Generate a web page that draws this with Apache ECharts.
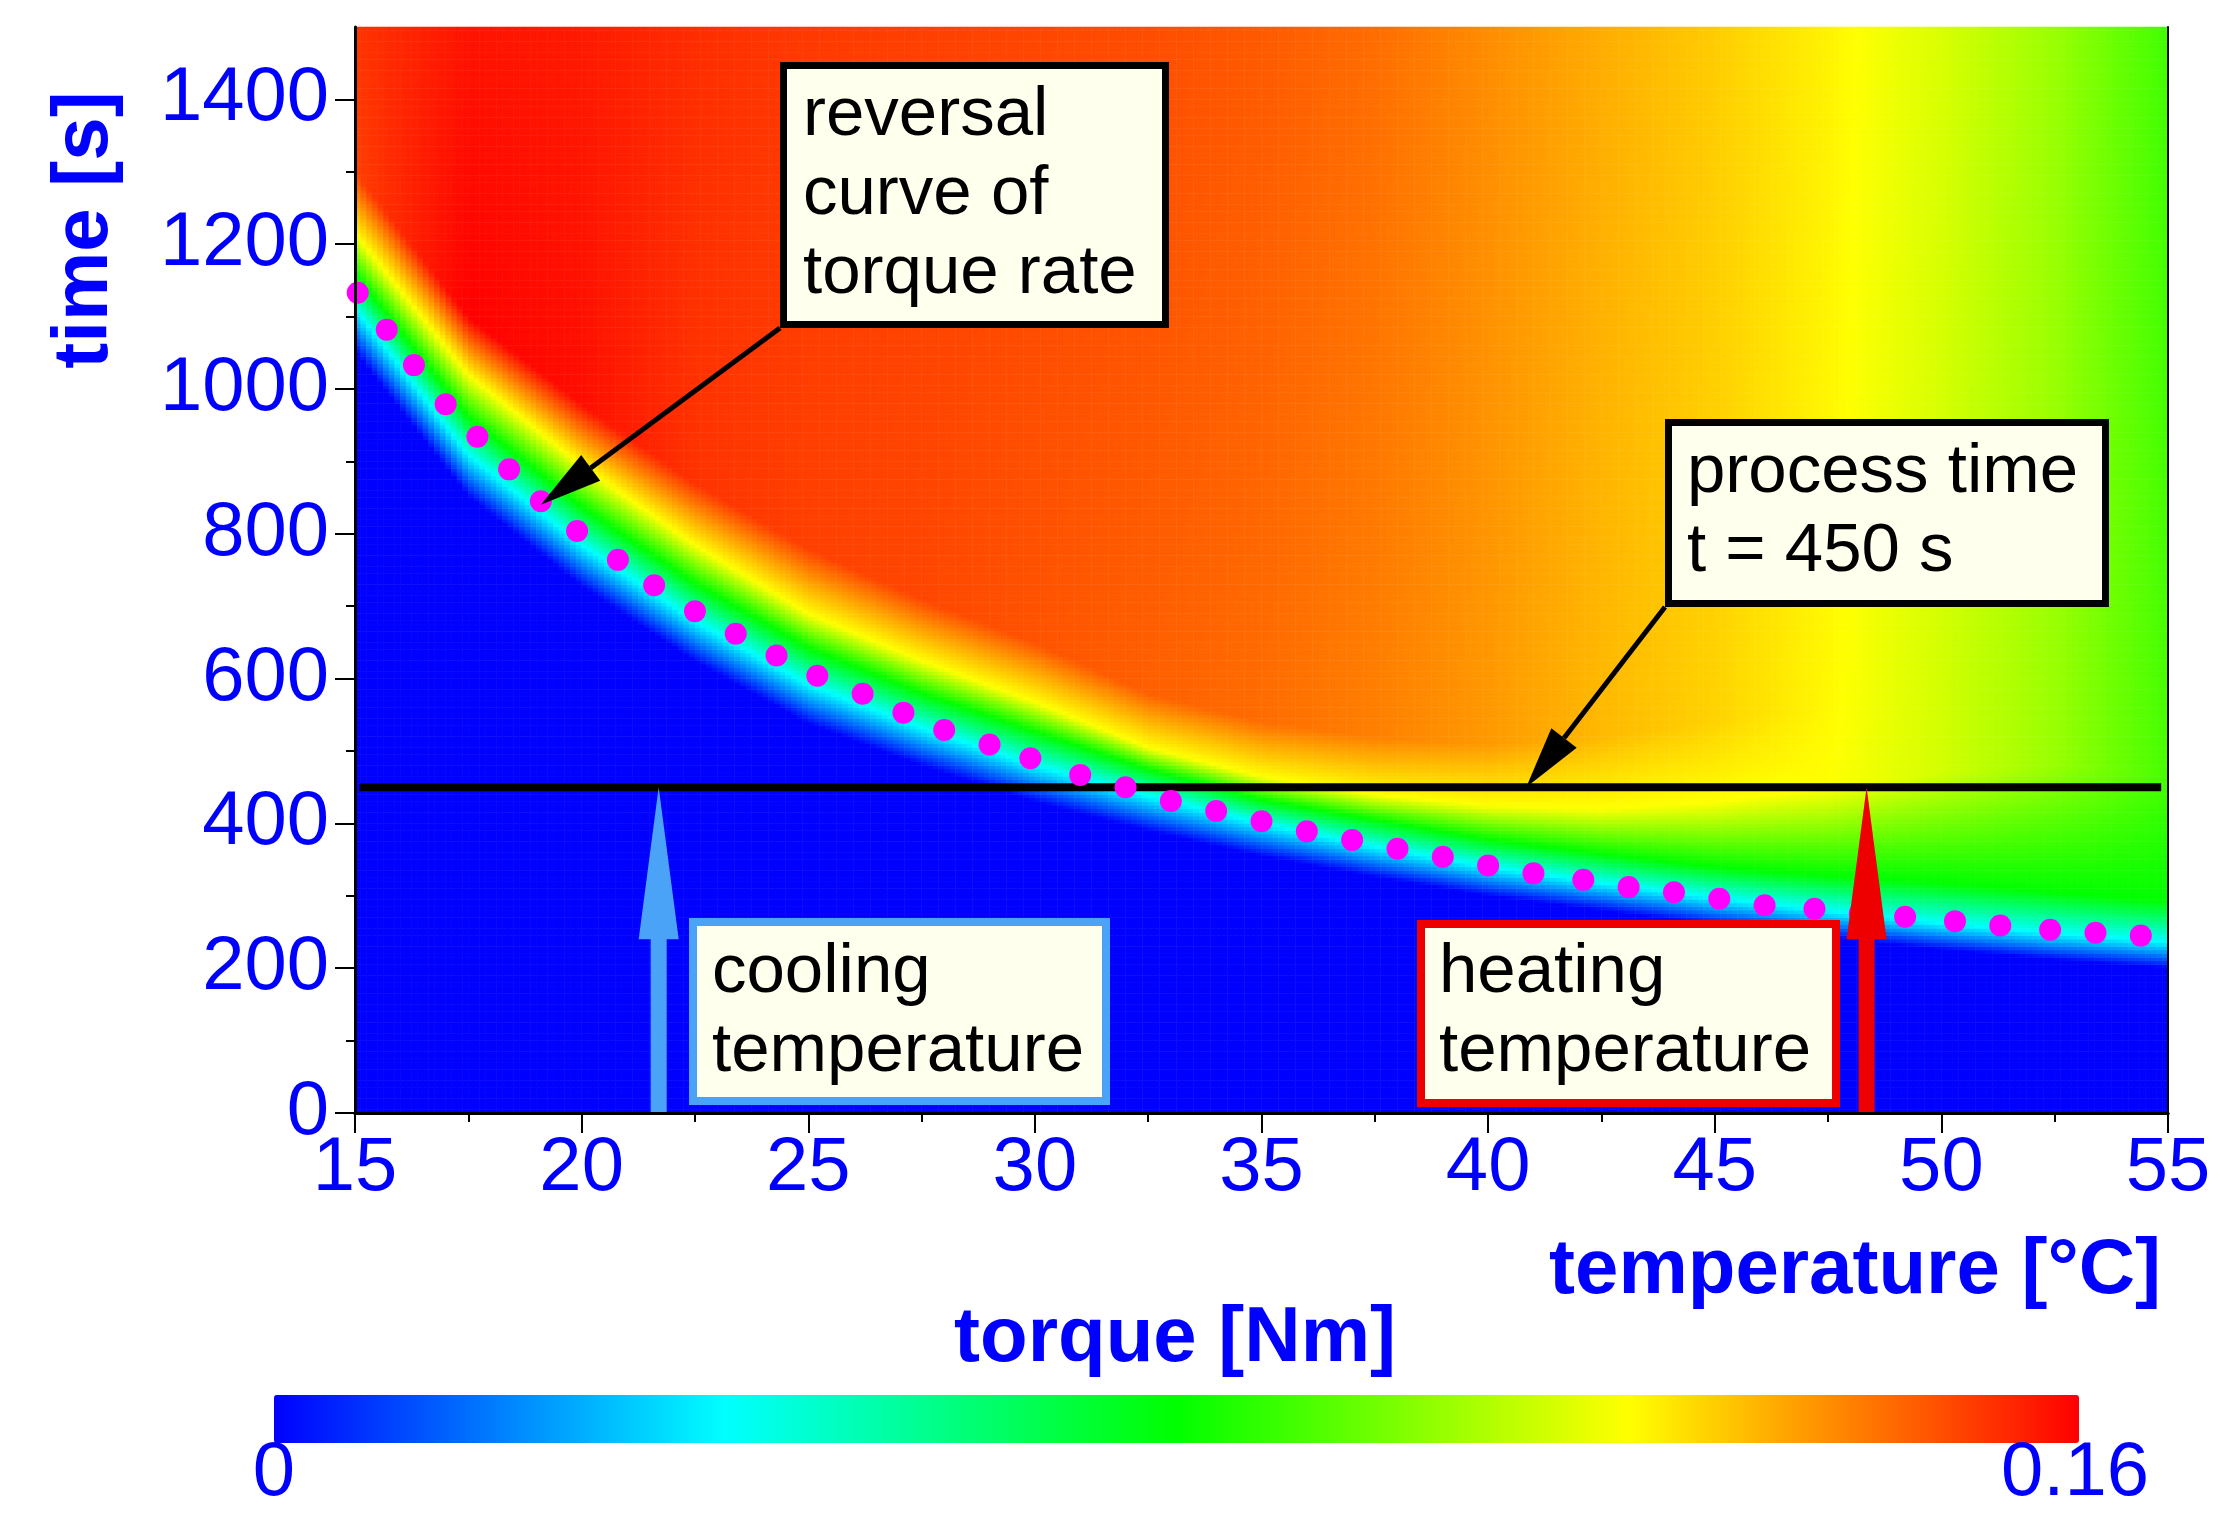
<!DOCTYPE html>
<html>
<head>
<meta charset="utf-8">
<title>reversal curve of torque rate</title>
<script src="https://cdn.jsdelivr.net/npm/echarts@6/dist/echarts.min.js"></script>
<style>
html, body { margin: 0; padding: 0; background: #fff; }
#chart { width: 2234px; height: 1533px; }
</style>
</head>
<body>
<div id="chart"></div>
<script>
var FONT = '"Liberation Sans", Arial, sans-serif';
var BLUE = '#0000ff';

// axis ticks
var xTicks = [15, 20, 25, 30, 35, 40, 45, 50, 55];
var yTicks = [0, 200, 400, 600, 800, 1000, 1200, 1400];
var yMinorTicks = [100, 300, 500, 700, 900, 1100, 1300];

// reversal curve of torque rate (magenta dots)
var dotTemp = [15.06, 15.7, 16.3, 17.0, 17.7, 18.4, 19.1, 19.9, 20.8, 21.6, 22.5, 23.4, 24.3, 25.2,
  26.2, 27.1, 28.0, 29.0, 29.9, 31.0, 32.0, 33.0, 34.0, 35.0, 36.0, 37.0, 38.0, 39.0, 40.0, 41.0,
  42.1, 43.1, 44.1, 45.1, 46.1, 47.2, 48.2, 49.2, 50.3, 51.3, 52.4, 53.4, 54.4];
var dotTime = [1133, 1082, 1033, 979, 934, 889, 845, 804, 764, 729, 693, 662, 632, 604,
  579, 553, 529, 509, 490, 467, 450, 431, 417, 403, 389, 377, 365, 354, 342, 331,
  322, 312, 305, 296, 287, 282, 276, 271, 265, 259, 253, 249, 245];

// torque rate field, read per temperature column:
// time where blue ends, cyan / green / yellow levels, start of plateau, plateau and top values
var colTemp      = [15, 17.5, 20, 22.5, 25, 27.5, 30, 32.5, 35, 37.5, 40, 42.5, 45, 47.5, 50, 52.5, 55];
var blueEdge     = [1052, 852, 728, 624, 538, 480, 430, 390, 355, 326, 300, 280, 259, 242, 226, 212, 200];
var cyanLine     = [1112, 910, 785, 680, 592, 532, 480, 438, 400, 368, 340, 318, 297, 279, 262, 248, 236];
var greenLine    = [1160, 962, 838, 732, 643, 580, 527, 475, 433, 405, 378, 358, 340, 328, 318, 305, 292];
var yellowLine   = [1215, 1020, 895, 785, 690, 625, 568, 505, 465, 440, 425, 420, 430, 450, 470, 480, 470];
var plateauStart = [1300, 1100, 980, 870, 780, 710, 650, 580, 540, 520, 510, 520, 540, 560, 600, 620, 600];
var plateauValue = [0.150, 0.160, 0.158, 0.152, 0.150, 0.149, 0.147, 0.145, 0.143, 0.140, 0.136, 0.131, 0.127, 0.121, 0.113, 0.104, 0.091];
var topValue     = [0.152, 0.157, 0.156, 0.153, 0.151, 0.150, 0.149, 0.148, 0.146, 0.143, 0.138, 0.133, 0.128, 0.122, 0.114, 0.104, 0.090];
var levelValues  = [0, 0.04, 0.08, 0.12];

var processTime = 450;
var coolingTemp = 21.7;
var heatingTemp = 48.35;

// grid of cells for the heatmap
var NX = 320, NY = 300, DX = 0.125, DT = 5;
var xCats = [], yCats = [], cells = [];
for (var j = 0; j < NY; j++) yCats.push(String((j + 0.5) * DT));

function lerp(arr, k, f) { return arr[k] + (arr[k + 1] - arr[k]) * f; }

var k = 0;
for (var i = 0; i < NX; i++) {
  var x = 15 + (i + 0.5) * DX;
  xCats.push(x.toFixed(4));
  while (k < colTemp.length - 2 && x > colTemp[k + 1]) k++;
  var f = (x - colTemp[k]) / (colTemp[k + 1] - colTemp[k]);
  var pv = lerp(plateauValue, k, f);
  var yv = Math.min(levelValues[3], plateauValue[k]) +
    (Math.min(levelValues[3], plateauValue[k + 1]) - Math.min(levelValues[3], plateauValue[k])) * f;
  var kt = [lerp(blueEdge, k, f), lerp(cyanLine, k, f), lerp(greenLine, k, f),
    lerp(yellowLine, k, f), lerp(plateauStart, k, f), 1500];
  var kv = [levelValues[0], levelValues[1], levelValues[2], yv, pv, lerp(topValue, k, f)];
  for (var jj = 0; jj < NY; jj++) {
    var t = (jj + 0.5) * DT;
    var v = 0;
    if (t > kt[0]) {
      var m = 0;
      while (m < kt.length - 2 && t > kt[m + 1]) m++;
      var g = Math.max(0, Math.min(1, (t - kt[m]) / (kt[m + 1] - kt[m])));
      v = kv[m] + (kv[m + 1] - kv[m]) * g;
    }
    cells.push([i, jj, +v.toFixed(4)]);
  }
}

var dots = dotTemp.map(function (d, n) { return [d, dotTime[n]]; });

var chart = echarts.init(document.getElementById('chart'));

var tickLabel = { color: BLUE, fontFamily: FONT, fontSize: 76, formatter: function (v) { return String(v); } };

var option = {
  animation: false,
  backgroundColor: '#ffffff',
  grid: [
    { left: 355, right: 66, top: 27, bottom: 420 },
    { left: 355, right: 66, top: 27, bottom: 420 }
  ],
  xAxis: [
    {
      type: 'value', gridIndex: 0, min: 15, max: 55, interval: 5, z: 10,
      axisLine: { lineStyle: { color: '#000', width: 3 } },
      axisTick: { length: 20, lineStyle: { color: '#000', width: 2 } },
      minorTick: { show: true, splitNumber: 2, length: 9, lineStyle: { color: '#000', width: 2 } },
      axisLabel: Object.assign({ margin: 18 }, tickLabel),
      splitLine: { show: false }
    },
    {
      type: 'value', gridIndex: 0, position: 'top', min: 15, max: 55, z: 10,
      axisLine: { lineStyle: { color: '#000', width: 3 } },
      axisTick: { show: false }, axisLabel: { show: false }, splitLine: { show: false }
    },
    { type: 'category', gridIndex: 1, data: xCats, show: false }
  ],
  yAxis: [
    {
      type: 'value', gridIndex: 0, min: 0, max: 1500, interval: 200, z: 10,
      axisLine: { lineStyle: { color: '#000', width: 3 } },
      axisTick: { length: 20, customValues: yTicks, lineStyle: { color: '#000', width: 2 } },
      axisLabel: Object.assign({ margin: 26, customValues: yTicks }, tickLabel),
      splitLine: { show: false }
    },
    {
      type: 'value', gridIndex: 0, position: 'right', min: 0, max: 1500, z: 10,
      axisLine: { show: true, lineStyle: { color: '#000', width: 2 } },
      axisTick: { show: false }, axisLabel: { show: false }, splitLine: { show: false }
    },
    {
      type: 'value', gridIndex: 0, position: 'left', min: 0, max: 1500, z: 10,
      axisLine: { show: false },
      axisTick: { length: 9, customValues: yMinorTicks, lineStyle: { color: '#000', width: 2 } },
      axisLabel: { show: false }, splitLine: { show: false }
    },
    { type: 'category', gridIndex: 1, data: yCats, show: false }
  ],
  visualMap: {
    type: 'continuous', seriesIndex: 0, dimension: 2, min: 0, max: 0.16,
    orient: 'horizontal', left: 274, top: 1395, itemWidth: 48, itemHeight: 1805,
    padding: 0, calculable: false, hoverLink: false,
    inRange: { color: ['#0000ff', '#00ffff', '#00ff00', '#ffff00', '#ff0000'] }
  },
  series: [
    {
      type: 'heatmap', xAxisIndex: 2, yAxisIndex: 3, data: cells,
      progressive: 0, emphasis: { disabled: true }, z: 1
    },
    {
      type: 'line', xAxisIndex: 0, yAxisIndex: 0, symbol: 'none', z: 5,
      data: [[15.1, processTime], [54.85, processTime]],
      lineStyle: { color: '#000', width: 8 }
    },
    {
      type: 'scatter', xAxisIndex: 0, yAxisIndex: 0, data: dots, z: 6,
      symbolSize: 22, itemStyle: { color: '#ff00ff', opacity: 1 }
    }
  ]
};
chart.setOption(option);

// annotations
function px(x, y) { return chart.convertToPixel({ xAxisIndex: 0, yAxisIndex: 0 }, [x, y]); }

function thinArrow(from, to, color) {
  var dx = to[0] - from[0], dy = to[1] - from[1];
  var len = Math.sqrt(dx * dx + dy * dy), ux = dx / len, uy = dy / len;
  var hl = 62, hw = 16;
  var bx = to[0] - ux * hl, by = to[1] - uy * hl;
  return [
    { type: 'line', z: 100, shape: { x1: from[0], y1: from[1], x2: bx, y2: by },
      style: { stroke: color, lineWidth: 5 } },
    { type: 'polygon', z: 100, shape: { points: [to, [bx - uy * hw, by + ux * hw], [bx + uy * hw, by - ux * hw]] },
      style: { fill: color } }
  ];
}

function bigArrow(tempX, color) {
  var tip = px(tempX, processTime), base = px(tempX, 0);
  var headLen = 152, headHalf = 20, shaftHalf = 8;
  return [
    { type: 'polygon', z: 100, shape: { points: [tip, [tip[0] - headHalf, tip[1] + headLen], [tip[0] + headHalf, tip[1] + headLen]] },
      style: { fill: color } },
    { type: 'rect', z: 100, shape: { x: tip[0] - shaftHalf, y: tip[1] + headLen - 1, width: shaftHalf * 2, height: base[1] - tip[1] - headLen } ,
      style: { fill: color } }
  ];
}

function box(x1, y1, x2, y2, border, bw, lines, tx, ty) {
  return [
    { type: 'rect', z: 100, shape: { x: x1 + bw / 2, y: y1 + bw / 2, width: x2 - x1 - bw, height: y2 - y1 - bw },
      style: { fill: '#ffffee', stroke: border, lineWidth: bw } },
    { type: 'text', z: 101, x: tx, y: ty,
      style: { text: lines.join('\n'), fontFamily: FONT, fontSize: 69, lineHeight: 79, fill: '#000',
        textAlign: 'left', textVerticalAlign: 'top' } }
  ];
}

var g = [];
g = g.concat(thinArrow([780, 328], px(dotTemp[6], 840), '#000'));
g = g.concat(thinArrow([1665, 607], px(40.84, processTime), '#000'));
g = g.concat(bigArrow(coolingTemp, '#4ba3f7'));
g = g.concat(bigArrow(heatingTemp, '#ee0000'));
g = g.concat(box(780, 62, 1169, 328, '#000', 7, ['reversal', 'curve of', 'torque rate'], 803, 76));
g = g.concat(box(1665, 419, 2109, 607, '#000', 7, ['process time', 't = 450 s'], 1687, 433));
g = g.concat(box(689, 918, 1110, 1105, '#4ba3f7', 8, ['cooling', 'temperature'], 712, 933));
g = g.concat(box(1417, 920, 1840, 1107, '#ee0000', 8, ['heating', 'temperature'], 1439, 933));

var nameStyle = { fontFamily: FONT, fontSize: 78, fontWeight: 'bold', fill: BLUE, textVerticalAlign: 'middle' };
g.push({ type: 'text', z: 100, x: 2161, y: 1271, style: Object.assign({ text: 'temperature [°C]', textAlign: 'right' }, nameStyle) });
g.push({ type: 'text', z: 100, x: 1175, y: 1339, style: Object.assign({ text: 'torque [Nm]', textAlign: 'center' }, nameStyle) });
g.push({ type: 'text', z: 100, x: 85, y: 230, rotation: Math.PI / 2, style: Object.assign({ text: 'time [s]', textAlign: 'center' }, nameStyle) });
g.push({ type: 'text', z: 100, x: 274, y: 1474, style: { text: '0', fontFamily: FONT, fontSize: 76, fill: BLUE, textAlign: 'center', textVerticalAlign: 'middle' } });
g.push({ type: 'text', z: 100, x: 2149, y: 1474, style: { text: '0.16', fontFamily: FONT, fontSize: 76, fill: BLUE, textAlign: 'right', textVerticalAlign: 'middle' } });

chart.setOption({ graphic: g });
</script>
</body>
</html>
